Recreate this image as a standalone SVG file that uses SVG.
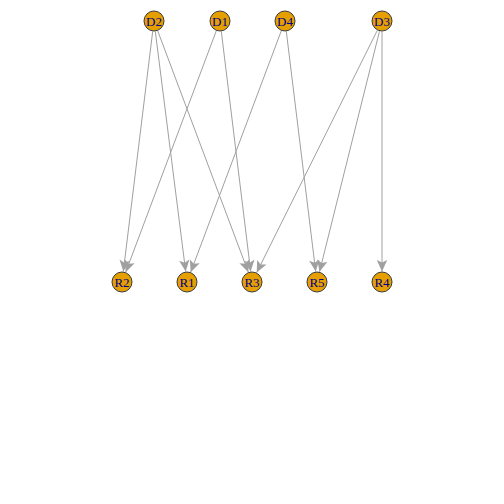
<svg xmlns="http://www.w3.org/2000/svg" width="504" height="504" viewBox="0 0 504 504">
<style>
.e{stroke:#A0A0A0;stroke-width:1;fill:none;marker-end:url(#a)}
.n circle{fill:#E69F00;stroke:#3A3A3A;stroke-width:1}
.n text{font-family:"Liberation Serif",serif;font-size:13px;fill:#00008B;text-anchor:middle;dominant-baseline:central}
</style>
<defs>
<marker id="a" markerUnits="userSpaceOnUse" markerWidth="14" markerHeight="14" refX="12" refY="7" orient="auto">
<path d="M0.5,1.8 L12,7 L0.5,12.2 L3,7 Z" fill="#A0A0A0"/>
</marker>
</defs>
<rect width="504" height="504" fill="#fff"/>
<g id="edges">
<line class="e" x1="152.7" y1="31.4" x2="123.3" y2="271.6"/>
<line class="e" x1="155.3" y1="31.4" x2="185.7" y2="271.6"/>
<line class="e" x1="157.7" y1="30.8" x2="248.3" y2="272.2"/>
<line class="e" x1="216.3" y1="30.8" x2="125.7" y2="272.2"/>
<line class="e" x1="221.3" y1="31.4" x2="250.7" y2="271.6"/>
<line class="e" x1="281.3" y1="30.8" x2="190.7" y2="272.2"/>
<line class="e" x1="286.3" y1="31.4" x2="315.7" y2="271.6"/>
<line class="e" x1="377.3" y1="30.4" x2="256.7" y2="272.6"/>
<line class="e" x1="379.5" y1="31.2" x2="319.5" y2="271.8"/>
<line class="e" x1="382" y1="31.5" x2="382" y2="271.5"/>
</g>
<g id="D2" class="n"><circle cx="154" cy="21" r="10"/><text x="154" y="21">D2</text></g>
<g id="D1" class="n"><circle cx="220" cy="21" r="10"/><text x="220" y="21">D1</text></g>
<g id="D4" class="n"><circle cx="285" cy="21" r="10"/><text x="285" y="21">D4</text></g>
<g id="D3" class="n"><circle cx="382" cy="21" r="10"/><text x="382" y="21">D3</text></g>
<g id="R2" class="n"><circle cx="122" cy="282" r="10"/><text x="122" y="282">R2</text></g>
<g id="R1" class="n"><circle cx="187" cy="282" r="10"/><text x="187" y="282">R1</text></g>
<g id="R3" class="n"><circle cx="252" cy="282" r="10"/><text x="252" y="282">R3</text></g>
<g id="R5" class="n"><circle cx="317" cy="282" r="10"/><text x="317" y="282">R5</text></g>
<g id="R4" class="n"><circle cx="382" cy="282" r="10"/><text x="382" y="282">R4</text></g>
</svg>
